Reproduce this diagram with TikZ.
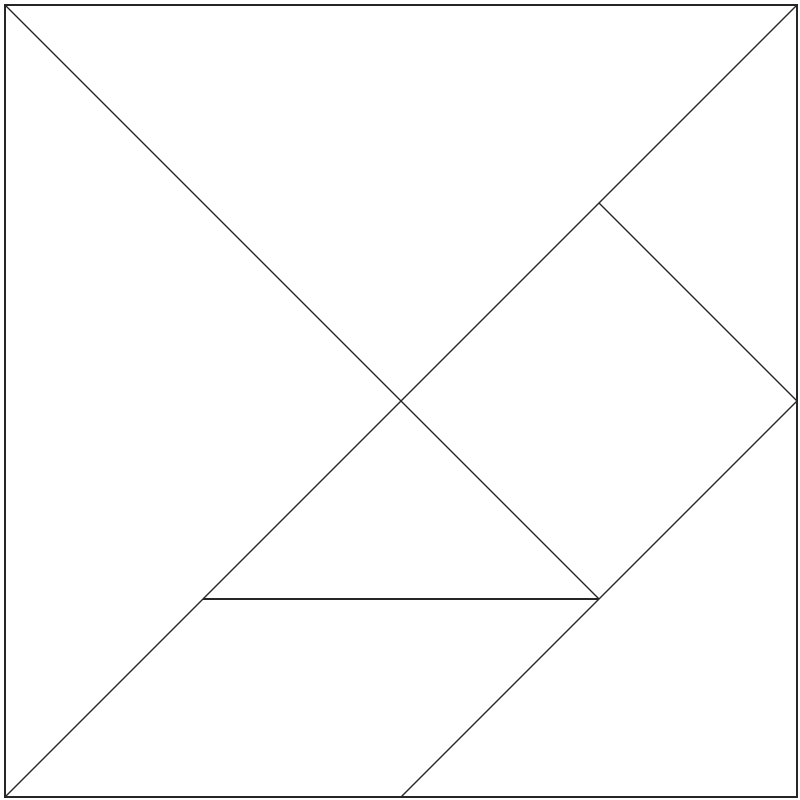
\documentclass[tikz,border=0pt]{standalone}
\begin{document}
\begin{tikzpicture}[x=2cm,y=2cm,edge/.style={line width=0.35pt,draw=black!85}]
\useasboundingbox (-0.0253,-0.0152) rectangle (4.0152,4.0253);
\coordinate (A) at (0,0);
\coordinate (B) at (4,0);
\coordinate (C) at (4,4);
\coordinate (D) at (0,4);
\coordinate (O) at (2,2);
\coordinate (P) at (3,1);
\coordinate (Q) at (1,1);
\coordinate (R) at (3,3);
\coordinate (S) at (4,2);
\coordinate (T) at (2,0);
\draw[edge] (A) rectangle (C);
\draw[edge] (D) -- (P);
\draw[edge] (A) -- (C);
\draw[edge] (R) -- (S);
\draw[edge] (S) -- (T);
\draw[edge] (Q) -- (P);
\end{tikzpicture}
\end{document}
